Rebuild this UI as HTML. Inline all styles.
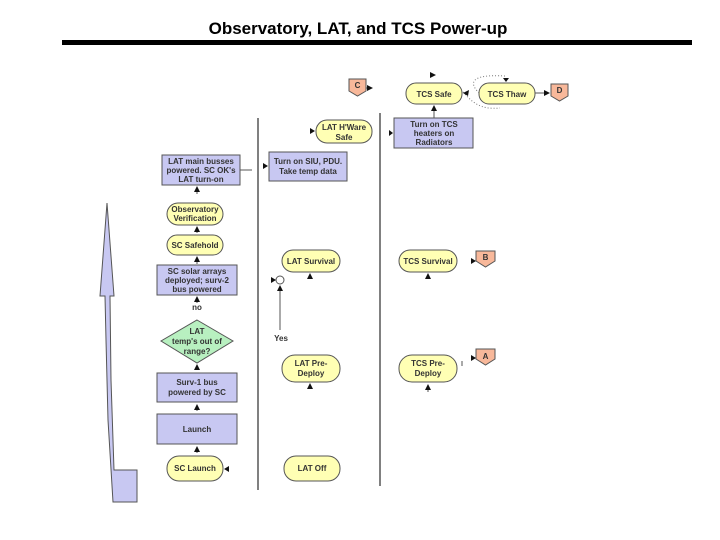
<!DOCTYPE html>
<html><head><meta charset="utf-8"><style>
body{margin:0;background:#fff;}
svg{display:block;}
text{font-family:"Liberation Sans",sans-serif;font-size:8px;font-weight:bold;fill:#333;text-anchor:middle;}
.y{fill:#ffffb4;stroke:#555;stroke-width:1;}
.b{fill:#c8c8f2;stroke:#555;stroke-width:1;}
.p{fill:#f8b89a;stroke:#555;stroke-width:1;}
.l{stroke:#555;stroke-width:1;fill:none;}
</style></head><body>
<svg width="720" height="540" viewBox="0 0 720 540">
<defs><marker id="a" markerWidth="6" markerHeight="6" refX="5" refY="3" orient="auto"><path d="M0,0L6,3L0,6z" fill="#111"/></marker></defs>
<text x="358" y="34" style="font-size:17px;font-weight:bold;fill:#000">Observatory, LAT, and TCS Power-up</text>
<rect x="62" y="40" width="630" height="5" fill="#000"/>
<line x1="258" y1="118" x2="258" y2="490" stroke="#000"/>
<line x1="380" y1="113" x2="380" y2="486" stroke="#000"/>
<path d="M107,203 L114,296 L110,296 L111,380 L114,470 L137,470 L137,502 L113,502 L108,420 L106,340 L105,296 L100,296 Z" fill="#c8c8f2" stroke="#555"/>
<rect class="y" x="406" y="83" width="56" height="21" rx="10"/><text x="434" y="97">TCS Safe</text>
<rect class="y" x="479" y="83" width="56" height="21" rx="10"/><text x="507" y="97">TCS Thaw</text>
<path class="p" d="M551,84H568V96L559.5,101L551,96Z"/><text x="559.5" y="93">D</text>
<path class="p" d="M349,79H366V91L357.5,96L349,91Z"/><text x="357.5" y="88">C</text>
<line class="l" x1="535" y1="93" x2="549" y2="93" marker-end="url(#a)"/>
<line class="l" x1="366" y1="88" x2="372" y2="88" marker-end="url(#a)"/>
<path d="M479,93 C468,82 472,74 505,76" stroke="#777" stroke-dasharray="1,2" fill="none"/>
<path d="M463,92 C472,102 480,110 500,108" stroke="#777" stroke-dasharray="1,2" fill="none"/>
<path d="M503,78L506,82L509,78z" fill="#111"/>
<path d="M469,90L463,93L468,96z" fill="#111"/>
<path d="M430,72L436,75L430,78z" fill="#111"/>
<line class="l" x1="434" y1="118" x2="434" y2="106" marker-end="url(#a)"/>
<rect class="b" x="394" y="118" width="79" height="30"/><text x="434" y="127">Turn on TCS</text><text x="434" y="136">heaters on</text><text x="434" y="145">Radiators</text>
<path d="M389,130L393,133L389,136z" fill="#111"/>
<rect class="y" x="316" y="120" width="56" height="23" rx="11"/><text x="344" y="130">LAT H'Ware</text><text x="344" y="140">Safe</text>
<path d="M310,128L315,131L310,134z" fill="#111"/>
<rect class="b" x="162" y="155" width="78" height="30"/><text x="201" y="164">LAT main busses</text><text x="201" y="173">powered.  SC OK's</text><text x="201" y="182">LAT turn-on</text>
<line class="l" x1="240" y1="170" x2="252" y2="170"/>
<rect class="b" x="269" y="152" width="78" height="29"/><text x="308" y="164">Turn on SIU, PDU.</text><text x="308" y="174">Take temp data</text>
<path d="M263,163L268,166L263,169z" fill="#111"/>
<rect class="y" x="167" y="203" width="56" height="22" rx="11"/><text x="195" y="212">Observatory</text><text x="195" y="221">Verification</text>
<line class="l" x1="197" y1="194" x2="197" y2="187" marker-end="url(#a)"/>
<rect class="y" x="167" y="235" width="56" height="20" rx="10"/><text x="195" y="248">SC Safehold</text>
<line class="l" x1="197" y1="233" x2="197" y2="227" marker-end="url(#a)"/>
<line class="l" x1="197" y1="264" x2="197" y2="257" marker-end="url(#a)"/>
<rect class="b" x="157" y="265" width="80" height="30"/><text x="197" y="274">SC solar arrays</text><text x="197" y="283">deployed; surv-2</text><text x="197" y="292">bus powered</text>
<line class="l" x1="197" y1="303" x2="197" y2="297" marker-end="url(#a)"/>
<text x="197" y="310">no</text>
<path d="M197,320L233,341L197,363L161,341Z" fill="#b8f0c0" stroke="#555"/>
<text x="197" y="334">LAT</text><text x="197" y="344">temp's out of</text><text x="197" y="354">range?</text>
<line class="l" x1="197" y1="370" x2="197" y2="365" marker-end="url(#a)"/>
<rect class="b" x="157" y="373" width="80" height="29"/><text x="197" y="385">Surv-1 bus</text><text x="197" y="395">powered by SC</text>
<line class="l" x1="197" y1="411" x2="197" y2="405" marker-end="url(#a)"/>
<rect class="b" x="157" y="414" width="80" height="30"/><text x="197" y="432">Launch</text>
<line class="l" x1="197" y1="453" x2="197" y2="447" marker-end="url(#a)"/>
<rect class="y" x="167" y="456" width="56" height="25" rx="12"/><text x="195" y="471">SC Launch</text>
<path d="M229,466L224,469L229,472z" fill="#111"/>
<rect class="y" x="282" y="250" width="58" height="22" rx="11"/><text x="311" y="264">LAT Survival</text>
<line class="l" x1="310" y1="279" x2="310" y2="274" marker-end="url(#a)"/>
<circle cx="280" cy="280" r="4" fill="#fff" stroke="#555"/>
<path d="M271,277L276,280L271,283z" fill="#111"/>
<line class="l" x1="280" y1="330" x2="280" y2="286" marker-end="url(#a)"/>
<text x="281" y="341">Yes</text>
<rect class="y" x="282" y="355" width="58" height="27" rx="13"/><text x="311" y="366">LAT Pre-</text><text x="311" y="376">Deploy</text>
<line class="l" x1="310" y1="388" x2="310" y2="384" marker-end="url(#a)"/>
<rect class="y" x="284" y="456" width="56" height="25" rx="12"/><text x="312" y="471">LAT Off</text>
<rect class="y" x="399" y="250" width="58" height="22" rx="11"/><text x="428" y="264">TCS Survival</text>
<line class="l" x1="428" y1="279" x2="428" y2="274" marker-end="url(#a)"/>
<path class="p" d="M476,251H495V261L485.5,267L476,261Z"/><text x="485.5" y="260">B</text>
<path d="M471,258L476,261L471,264z" fill="#111"/>
<rect class="y" x="399" y="355" width="58" height="27" rx="13"/><text x="428" y="366">TCS Pre-</text><text x="428" y="376">Deploy</text>
<line class="l" x1="428" y1="392" x2="428" y2="385" marker-end="url(#a)"/>
<line class="l" x1="462" y1="361" x2="462" y2="366"/>
<path class="p" d="M476,349H495V359L485.5,365L476,359Z"/><text x="485.5" y="359">A</text>
<path d="M471,355L476,358L471,361z" fill="#111"/>
</svg>
</body></html>
